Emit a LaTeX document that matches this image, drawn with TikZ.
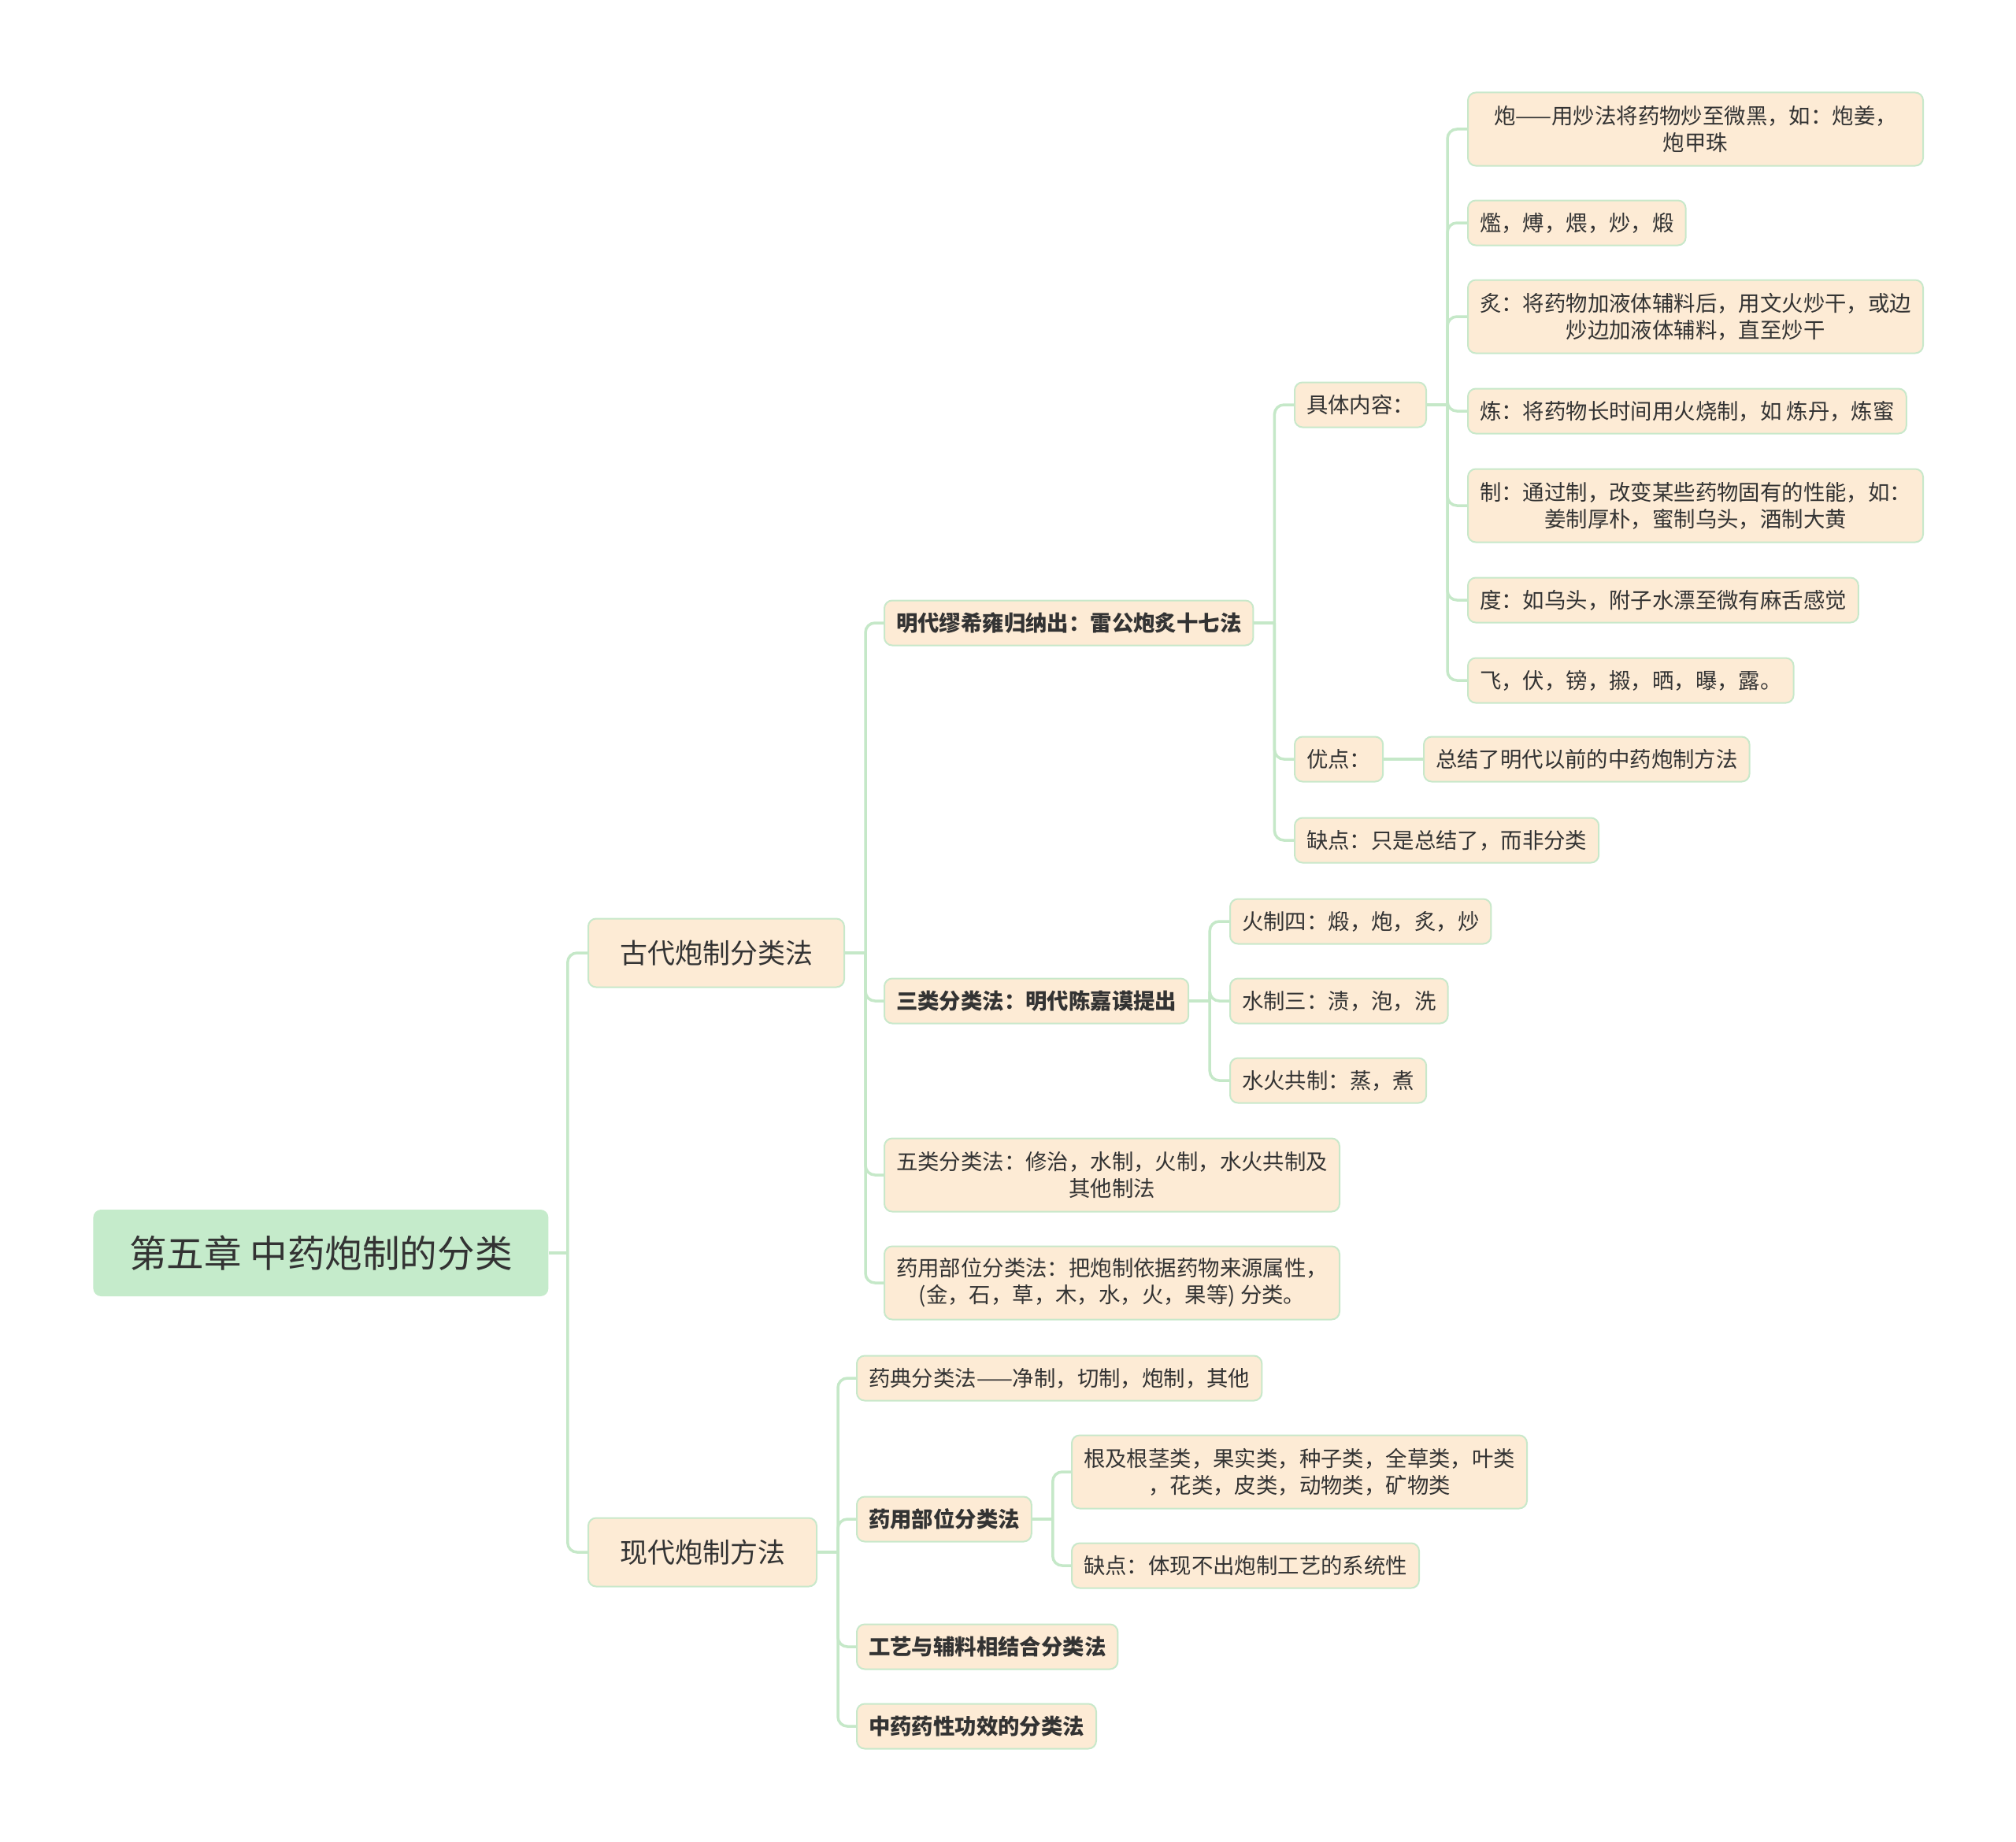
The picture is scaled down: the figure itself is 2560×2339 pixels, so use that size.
\documentclass[tikz,border=0pt]{standalone}
\usepackage{fontspec}
\setmainfont{Noto Sans CJK SC}
\usetikzlibrary{positioning}
\definecolor{rootfill}{HTML}{C5EBCB}
\definecolor{boxfill}{HTML}{FDEBD5}
\definecolor{boxline}{HTML}{C8E8CA}
\definecolor{linkcol}{HTML}{C5E8C8}
\definecolor{txt}{HTML}{333333}

\begin{document}
\begin{tikzpicture}[x=0.5pt, y=-0.5pt,
    rootbox/.style={rectangle, rounded corners=5pt, fill=rootfill,
      text=txt, minimum width=289pt, minimum height=55pt, inner xsep=0pt,
    font=\fontsize{23.8pt}{28pt}\selectfont, anchor=west},
    topic/.style={rectangle, rounded corners=5pt, draw=boxline,
      fill=boxfill, line width=1pt, text=txt, inner xsep=20pt,
    minimum height=43.5pt, font=\fontsize{17.5pt}{21pt}\selectfont, anchor=west},
    leaf/.style={rectangle, rounded corners=5pt, draw=boxline,
      fill=boxfill, line width=1pt, text=txt, inner xsep=7.5pt,
      inner ysep=3pt, minimum height=28.5pt, align=center,
    font=\fontsize{13.7pt}{17pt}\selectfont, anchor=west},
    boldleaf/.style={leaf, font=\fontsize{13.7pt}{17pt}\selectfont\bfseries},
    wide/.style={leaf, minimum width=289pt, minimum height=46.5pt},
    link/.style={draw=linkcol, line width=1.75pt, rounded corners=6pt},
  ]
  \useasboundingbox (0,0) rectangle (2560,2339);

  % =================== ROOT AND TOPICS ===================
  \node[rootbox] (root) at (118,1591) {第五章 中药炮制的分类};
  \node[topic] (gd) at (746,1210) {古代炮制分类法};
  \node[topic] (xd) at (746,1971) {现代炮制方法};

  % =================== ANCIENT METHODS ===================
  \node[boldleaf] (mq) at (1122,791) {明代缪希雍归纳出：雷公炮炙十七法};
  \node[boldleaf] (sl) at (1122,1271) {三类分类法：明代陈嘉谟提出};
  \node[wide] (wl) at (1122,1492) {五类分类法：修治，水制，火制，水火共制及\\其他制法};
  \node[wide] (yb) at (1122,1629) {药用部位分类法：把炮制依据药物来源属性，\\(金，石，草，木，水，火，果等) 分类。};

  % seventeen methods
  \node[leaf] (jt) at (1643,514) {具体内容：};
  \node[leaf] (yd) at (1643,964) {优点：};
  \node[leaf] (qd) at (1643,1067) {缺点：只是总结了，而非分类};
  \node[leaf] (zj) at (1807,964) {总结了明代以前的中药炮制方法};

  \node[wide] (pao) at (1863,164) {炮——用炒法将药物炒至微黑，如：炮姜，\\炮甲珠};
  \node[leaf] (lan) at (1863,283) {爁，煿，煨，炒，煅};
  \node[wide] (zhi) at (1863,402) {炙：将药物加液体辅料后，用文火炒干，或边\\炒边加液体辅料，直至炒干};
  \node[leaf] (lian) at (1863,522) {炼：将药物长时间用火烧制，如 炼丹，炼蜜};
  \node[wide] (zhis) at (1863,642) {制：通过制，改变某些药物固有的性能，如：\\姜制厚朴，蜜制乌头，酒制大黄};
  \node[leaf] (du) at (1863,762) {度：如乌头，附子水漂至微有麻舌感觉};
  \node[leaf] (fei) at (1863,864) {飞，伏，镑，摋，晒，曝，露。};

  % three classes
  \node[leaf] (hz) at (1561,1170) {火制四：煅，炮，炙，炒};
  \node[leaf] (sz) at (1561,1271) {水制三：渍，泡，洗};
  \node[leaf] (shz) at (1561,1372) {水火共制：蒸，煮};

  % =================== MODERN METHODS ===================
  \node[leaf] (ydn) at (1087,1750) {药典分类法——净制，切制，炮制，其他};
  \node[boldleaf] (yy) at (1087,1929) {药用部位分类法};
  \node[boldleaf] (gy) at (1087,2091) {工艺与辅料相结合分类法};
  \node[boldleaf] (zy) at (1087,2192) {中药药性功效的分类法};
  \node[wide] (gj) at (1360,1869) {根及根茎类，果实类，种子类，全草类，叶类\\，花类，皮类，动物类，矿物类};
  \node[leaf] (qd2) at (1360,1988) {缺点：体现不出炮制工艺的系统性};

  % =================== CONNECTIONS ===================
  \draw[link] (root.east) -- ++(12pt,0) coordinate (rootj);
  \foreach \c in {gd,xd} \draw[link] (rootj) |- (\c.west);

  \draw[link] (gd.east) -- ++(13pt,0) coordinate (gdj);
  \foreach \c in {mq,sl,wl,yb} \draw[link] (gdj) |- (\c.west);

  \draw[link] (mq.east) -- ++(13pt,0) coordinate (mqj);
  \foreach \c in {jt,yd,qd} \draw[link] (mqj) |- (\c.west);

  \draw[link] (jt.east) -- ++(13pt,0) coordinate (jtj);
  \foreach \c in {pao,lan,zhi,lian,zhis,du,fei} \draw[link] (jtj) |- (\c.west);

  \draw[link] (yd.east) -- (zj.west);

  \draw[link] (sl.east) -- ++(13pt,0) coordinate (slj);
  \foreach \c in {hz,sz,shz} \draw[link] (slj) |- (\c.west);

  \draw[link] (xd.east) -- ++(13pt,0) coordinate (xdj);
  \foreach \c in {ydn,yy,gy,zy} \draw[link] (xdj) |- (\c.west);

  \draw[link] (yy.east) -- ++(13pt,0) coordinate (yyj);
  \foreach \c in {gj,qd2} \draw[link] (yyj) |- (\c.west);

\end{tikzpicture}
\end{document}
